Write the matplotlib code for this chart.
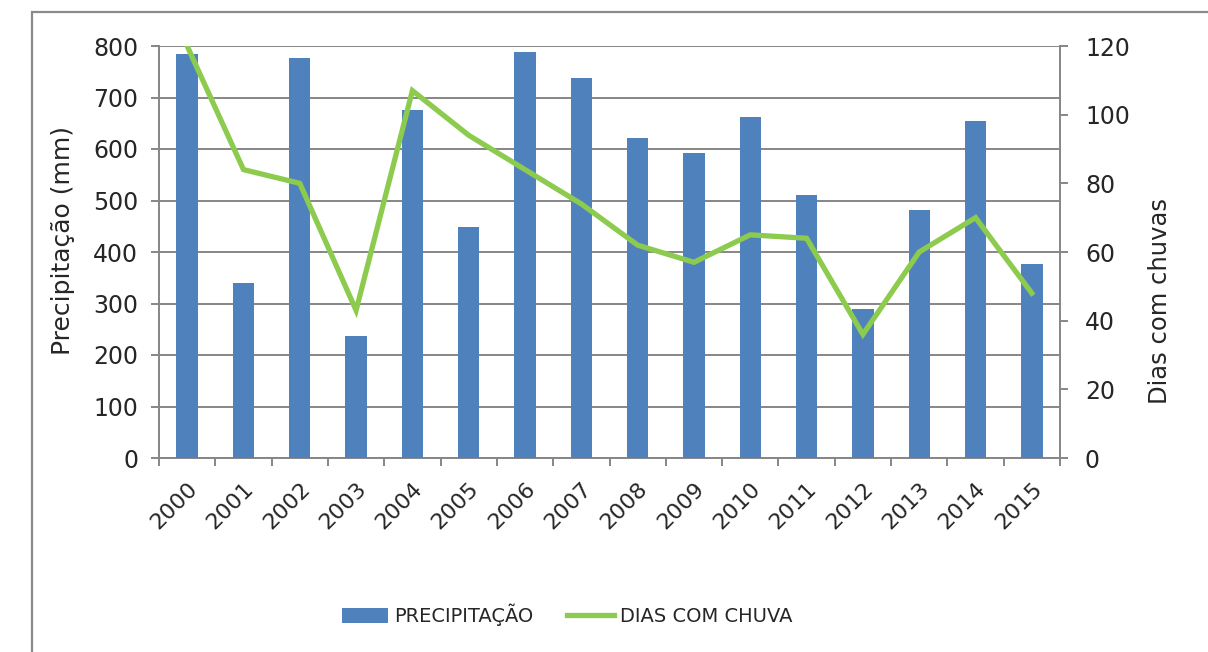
import matplotlib.pyplot as plt
import numpy as np
from matplotlib.patches import Rectangle

years = ['2000', '2001', '2002', '2003', '2004', '2005', '2006', '2007',
         '2008', '2009', '2010', '2011', '2012', '2013', '2014', '2015']
precipitacao = [784, 340, 776, 237, 676, 448, 788, 737,
                622, 593, 663, 510, 290, 481, 655, 377]
dias_chuva = [120, 84, 80, 43, 107, 94, 84, 74,
              62, 57, 65, 64, 36, 60, 70, 48]

plt.rcParams['font.family'] = ['DejaVu Sans']
txt_c = '#262626'

fig = plt.figure(figsize=(12.08, 6.52), dpi=100)
# moldura do grafico (so aparecem a borda de cima e a da esquerda)
fig.patches.append(Rectangle((32 / 1208, -0.1), 1.2, 1 - 12 / 652 + 0.1,
                             transform=fig.transFigure, fill=False,
                             edgecolor='#8a8a8a', linewidth=1.6))

ax = fig.add_axes([159 / 1208, 1 - 458 / 652, (1060 - 159) / 1208, (458 - 46) / 652])
ax2 = ax.twinx()

x = np.arange(len(years))
grid_c = '#868686'

bars = ax.bar(x, precipitacao, width=0.38, color='#4F81BD', zorder=3,
              label='PRECIPITAÇÃO')
ax.set_xlim(-0.5, len(years) - 0.5)
ax.set_ylim(0, 800)
ax.set_yticks(range(0, 801, 100))
ax.yaxis.grid(True, color=grid_c, linewidth=1.4, zorder=0)
ax.set_axisbelow(True)

ax.set_xticks(x)
ax.set_xticklabels(years, rotation=45, ha='right', rotation_mode='anchor',
                   fontsize=16, color=txt_c)
ax.set_xticks(np.arange(-0.5, len(years)), minor=True)
ax.tick_params(axis='x', which='major', length=0, pad=15)
ax.tick_params(axis='x', which='minor', length=6, width=1.4, color=grid_c, direction='out')
ax.tick_params(axis='y', length=6, width=1.4, color=grid_c, labelsize=17,
               labelcolor=txt_c, pad=9)

for s in ['top', 'right']:
    ax.spines[s].set_visible(False)
for s in ['left', 'bottom']:
    ax.spines[s].set_color(grid_c)
    ax.spines[s].set_linewidth(1.4)

line, = ax2.plot(x, dias_chuva, color='#8DCB4E', linewidth=3.8, zorder=4,
                 solid_joinstyle='miter', label='DIAS COM CHUVA')
ax2.set_ylim(0, 120)
ax2.set_yticks(range(0, 121, 20))
ax2.tick_params(axis='y', length=6, width=1.4, color=grid_c, labelsize=17,
                labelcolor=txt_c, pad=12)
for s in ['top', 'left', 'bottom']:
    ax2.spines[s].set_visible(False)
ax2.spines['right'].set_color(grid_c)
ax2.spines['right'].set_linewidth(1.4)

ax.set_ylabel('Precipitação (mm)', fontsize=18, color=txt_c)
ax.yaxis.set_label_coords(-0.093, 0.527)
ax2.set_ylabel('Dias com chuvas', fontsize=17.5, color=txt_c)
ax2.yaxis.set_label_coords(1.098, 0.381)

fig.legend([bars, line], ['PRECIPITAÇÃO', 'DIAS COM CHUVA'], loc='center',
           bbox_to_anchor=(567 / 1208, 1 - 615 / 652), ncol=2, frameon=False,
           fontsize=14, handlelength=2.4, handleheight=0.8, columnspacing=1.75,
           handletextpad=0.3, labelcolor=txt_c)

fig.savefig('out.png', dpi=100)
